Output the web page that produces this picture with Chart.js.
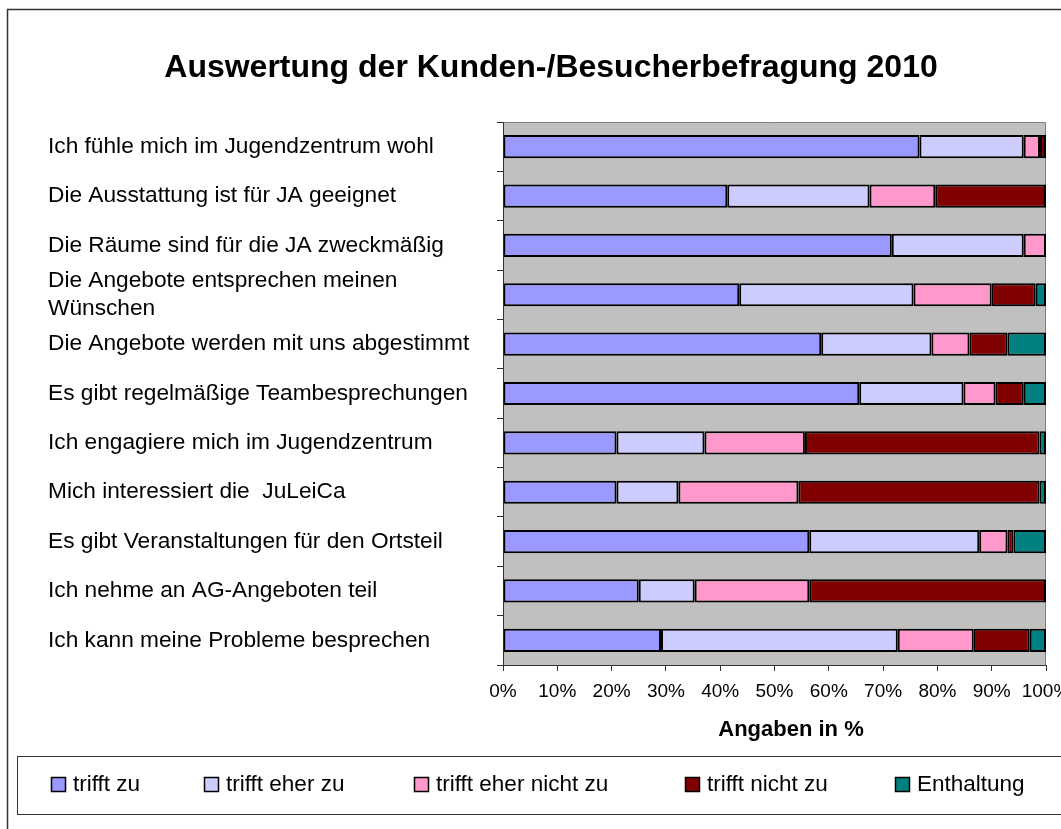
<!DOCTYPE html>
<html>
<head>
<meta charset="utf-8">
<title>Auswertung der Kunden-/Besucherbefragung 2010</title>
<script src="https://cdn.jsdelivr.net/npm/chart.js@4.4.0/dist/chart.umd.min.js"></script>
<style>
  html, body { margin: 0; padding: 0; background: #fff; }
  #chart { display: block; }
</style>
</head>
<body>
<canvas id="chart" width="1061" height="829"></canvas>
<script>
const fontFamily = "'Liberation Sans', Arial, sans-serif";

// Categories (top to bottom)
const categories = [
    "Ich fühle mich im Jugendzentrum wohl",
    "Die Ausstattung ist für JA geeignet",
    "Die Räume sind für die JA zweckmäßig",
    ["Die Angebote entsprechen meinen", "Wünschen"],
    "Die Angebote werden mit uns abgestimmt",
    "Es gibt regelmäßige Teambesprechungen",
    "Ich engagiere mich im Jugendzentrum",
    "Mich interessiert die  JuLeiCa",
    "Es gibt Veranstaltungen für den Ortsteil",
    "Ich nehme an AG-Angeboten teil",
    "Ich kann meine Probleme besprechen"
];

// Series values in percent
const trifftZu          = [76.7, 41.3, 71.6, 43.5, 58.6, 65.6, 20.9, 20.9, 56.4, 25.0, 29.1];
const trifftEherZu      = [19.2, 26.2, 24.3, 32.1, 20.3, 19.2, 16.2, 11.4, 31.3, 10.3, 43.6];
const trifftEherNichtZu = [ 3.0, 12.1,  4.1, 14.4,  7.0,  5.9, 18.5, 22.1,  5.2, 21.1, 14.0];
const trifftNichtZu     = [ 1.1, 20.4,  0.0,  8.1,  7.0,  5.2, 43.2, 44.4,  1.1, 43.6, 10.3];
const enthaltung        = [ 0.0,  0.0,  0.0,  1.9,  7.1,  4.1,  1.2,  1.2,  6.0,  0.0,  3.0];

const seriesNames  = ["trifft zu", "trifft eher zu", "trifft eher nicht zu", "trifft nicht zu", "Enthaltung"];
const seriesColors = ["#9999FF", "#CCCCFF", "#FF99CC", "#800000", "#008080"];
const seriesValues = [trifftZu, trifftEherZu, trifftEherNichtZu, trifftNichtZu, enthaltung];

// x axis ticks: 0% .. 100%
const xTickStep = 10;

// Draws background, frame, title, axis title and the boxed legend
const framePlugin = {
    id: 'frame',
    beforeDraw(chart) {
        const { ctx, chartArea } = chart;
        ctx.save();
        ctx.fillStyle = '#fff';
        ctx.fillRect(0, 0, chart.width, chart.height);
        // Plot area background
        ctx.fillStyle = '#C0C0C0';
        ctx.fillRect(chartArea.left, chartArea.top, chartArea.right - chartArea.left, chartArea.bottom - chartArea.top);
        ctx.strokeStyle = '#808080';
        ctx.lineWidth = 1;
        ctx.beginPath();
        ctx.moveTo(chartArea.left, chartArea.top + 0.5);
        ctx.lineTo(chartArea.right - 0.5, chartArea.top + 0.5);
        ctx.lineTo(chartArea.right - 0.5, chartArea.bottom);
        ctx.stroke();
        ctx.restore();
    },
    afterDraw(chart) {
        const { ctx } = chart;
        ctx.save();
        // Outer chart frame
        ctx.strokeStyle = '#333';
        ctx.lineWidth = 1.5;
        ctx.beginPath();
        ctx.moveTo(7.5, chart.height + 5);
        ctx.lineTo(7.5, 9.5);
        ctx.lineTo(chart.width + 5, 9.5);
        ctx.stroke();

        // Title
        ctx.fillStyle = '#000';
        ctx.textAlign = 'center';
        ctx.textBaseline = 'middle';
        ctx.font = `bold 32px ${fontFamily}`;
        ctx.fillText('Auswertung der Kunden-/Besucherbefragung 2010', 551, 68);

        // x axis title
        ctx.font = `bold 22px ${fontFamily}`;
        ctx.fillText('Angaben in %', 791, 730);

        // Legend box
        ctx.strokeStyle = '#333';
        ctx.lineWidth = 1;
        ctx.strokeRect(17.5, 756.5, chart.width, 58);

        const legendX = [51, 204, 414, 685, 895];
        ctx.font = `22.5px ${fontFamily}`;
        ctx.textAlign = 'left';
        seriesNames.forEach((name, i) => {
            ctx.fillStyle = seriesColors[i];
            ctx.fillRect(legendX[i], 777, 15, 15);
            ctx.strokeStyle = '#000';
            ctx.lineWidth = 1.5;
            ctx.strokeRect(legendX[i] + 0.5, 777.5, 14, 14);
            ctx.fillStyle = '#000';
            ctx.fillText(name, legendX[i] + 22, 785);
        });
        ctx.restore();
    }
};

const ctx = document.getElementById('chart').getContext('2d');
new Chart(ctx, {
    type: 'bar',
    data: {
        labels: categories,
        datasets: seriesNames.map((name, i) => ({
            label: name,
            data: seriesValues[i],
            backgroundColor: seriesColors[i],
            borderColor: '#000',
            borderWidth: 2,
            borderSkipped: false,
            barPercentage: 0.47,
            categoryPercentage: 1
        }))
    },
    options: {
        indexAxis: 'y',
        responsive: false,
        animation: false,
        devicePixelRatio: 1,
        layout: { padding: { left: 48, top: 122, right: 15, bottom: 84 } },
        plugins: {
            legend: { display: false },
            tooltip: { enabled: false },
            title: { display: false }
        },
        scales: {
            x: {
                stacked: true,
                min: 0,
                max: 100,
                ticks: {
                    stepSize: xTickStep,
                    callback: v => v + '%',
                    color: '#000',
                    font: { family: fontFamily, size: 19 },
                    padding: 9,
                    maxRotation: 0,
                    autoSkip: false
                },
                grid: { drawOnChartArea: false, drawTicks: true, tickLength: 6, color: '#333' },
                border: { display: true, color: '#333', width: 1 },
                afterFit: s => { s.height = 80; s.paddingLeft = 0; s.paddingRight = 0; }
            },
            y: {
                stacked: true,
                ticks: {
                    color: '#000',
                    font: { family: fontFamily, size: 22.7, lineHeight: 1.25 },
                    crossAlign: 'far',
                    autoSkip: false
                },
                grid: { offset: true, drawOnChartArea: false, drawTicks: true, tickLength: 6, color: '#333' },
                border: { display: true, color: '#333', width: 1 },
                afterFit: s => { s.width = 455; s.paddingTop = 0; s.paddingBottom = 0; }
            }
        }
    },
    plugins: [framePlugin]
});
</script>
</body>
</html>
